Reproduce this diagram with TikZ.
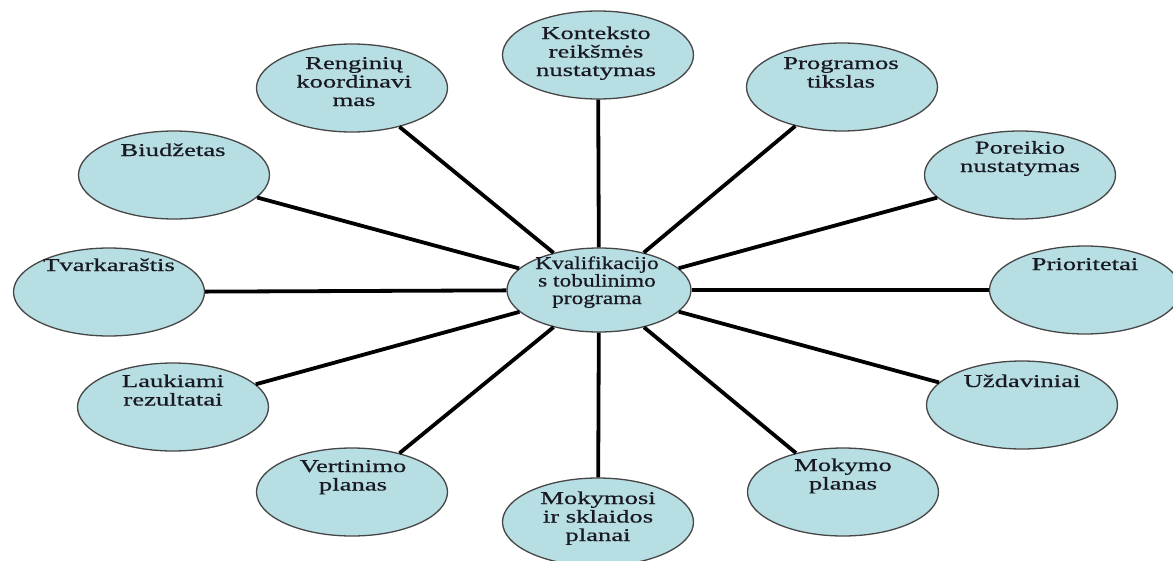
\documentclass[tikz,border=0pt]{standalone}
\usepackage{fontspec}
\usetikzlibrary{shapes.geometric}
\setmainfont{Liberation Serif}
\newfontfamily\leaffont[FakeStretch=1.48,FakeBold=0.6]{Liberation Serif}
\newfontfamily\hubfont[FakeStretch=1.30,FakeBold=0.6]{Liberation Serif}
\definecolor{bubblefill}{RGB}{183,222,227}
\definecolor{bubbleline}{RGB}{70,70,70}
\definecolor{inktext}{RGB}{25,25,35}
\tikzset{
  bubble/.style={ellipse, fill=bubblefill, draw=bubbleline, line width=1.3pt,
    minimum width=191pt, minimum height=88pt, inner sep=0pt},
  hubbubble/.style={bubble, minimum width=184pt, minimum height=84pt},
  % anchored at the baseline of the last line
  leaftext/.style={anchor=base, align=center, inner sep=0pt, text=inktext,
    font=\leaffont\fontsize{18}{18.5}\selectfont},
  hubtext/.style={leaftext, font=\hubfont\fontsize{18}{17.5}\selectfont},
  spoke/.style={line width=3.8pt, black}
}
\begin{document}
\begin{tikzpicture}[x=1pt,y=-1pt]
\useasboundingbox (0,0) rectangle (1173,560);

% central programme bubble and the twelve surrounding bubbles
\node[hubbubble] (hub) at (599,290) {};
\node[bubble] (kont) at (598,55) {};
\node[bubble] (prog) at (842,87) {};
\node[bubble] (por)  at (1020,175) {};
\node[bubble] (prio) at (1085,290) {};
\node[bubble] (uzd)  at (1022,405) {};
\node[bubble] (moko) at (843,492) {};
\node[bubble] (moks) at (598,522) {};
\node[bubble] (vert) at (352,492) {};
\node[bubble] (lauk) at (173,407) {};
\node[bubble] (tvar) at (109,292) {};
\node[bubble] (biud) at (174,175) {};
\node[bubble] (reng) at (352,88) {};

% spokes from the centre to every bubble
\foreach \b in {kont,prog,por,prio,uzd,moko,moks,vert,lauk,tvar,biud,reng}
  \draw[spoke] (hub) -- (\b);

% labels, set near the top of each bubble
\node[hubtext]  (thub)  at (597,304) {Kvalifikacijo\\s tobulinimo\\programa};
\node[leaftext] (tkont) at (596,76)  {Konteksto\\reikšmės\\nustatymas};
\node[leaftext] (tprog) at (841,87.5) {Programos\\tikslas};
\node[leaftext] (tpor)  at (1020,172) {Poreikio\\nustatymas};
\node[leaftext] (tprio) at (1085,270) {Prioritetai};
\node[leaftext] (tuzd)  at (1022,387) {Uždaviniai};
\node[leaftext] (tmoko) at (843,489.5) {Mokymo\\planas};
\node[leaftext] (tmoks) at (598,541) {Mokymosi\\ir sklaidos\\planai};
\node[leaftext] (tvert) at (353,490.5) {Vertinimo\\planas};
\node[leaftext] (tlauk) at (173,405.5) {Laukiami\\rezultatai};
\node[leaftext] (ttvar) at (109,271) {Tvarkaraštis};
\node[leaftext] (tbiud) at (173,156) {Biudžetas};
\node[leaftext] (treng) at (354,106)  {Renginių\\koordinavi\\mas};
\end{tikzpicture}
\end{document}
